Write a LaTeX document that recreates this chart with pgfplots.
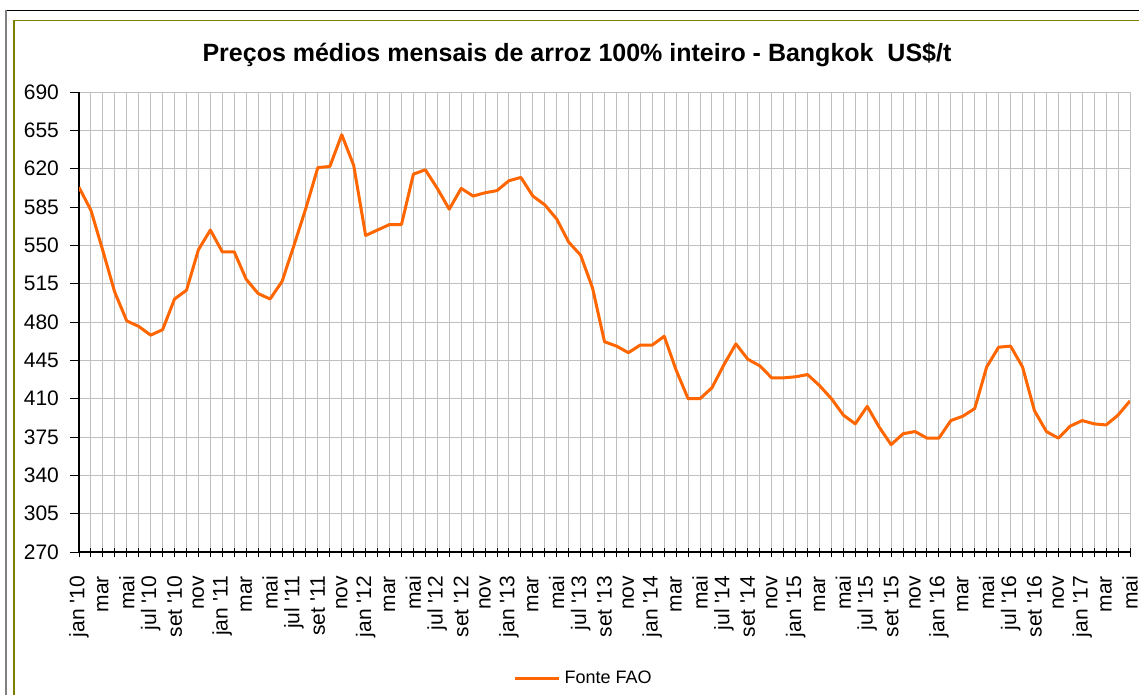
\documentclass[border=0pt]{standalone}
\usepackage{fontspec}
\setmainfont{Liberation Sans}
\newfontfamily\arial{Liberation Sans}
\usepackage{pgfplots}
\pgfplotsset{compat=1.18}
\definecolor{olivef}{RGB}{128,128,0}
\definecolor{fao}{RGB}{255,102,0}
\definecolor{gridc}{RGB}{192,192,192}
\begin{document}
\begin{tikzpicture}
\useasboundingbox (0,0) rectangle (569.5pt,-347.5pt);
\begin{scope}[x=0.5pt,y=-0.5pt]
\draw[black, line width=0.6pt] (6,10.5) -- (1160,10.5);
\draw[gray, line width=0.6pt] (6,10.5) -- (6,710);
\draw[olivef, line width=0.7pt] (14,20.5) -- (1160,20.5);
\draw[olivef, line width=0.7pt] (14,20.5) -- (14,710);
\node[font=\arial\bfseries\fontsize{12.5}{14}\selectfont] at (577,55) {Preços médios mensais de arroz 100\% inteiro - Bangkok\ \ US\$/t};
\end{scope}
\begin{axis}[
  at={(39.5pt,-276pt)}, anchor=south west,
  scale only axis, width=525.5pt, height=230pt,
  xmin=0, xmax=88, ymin=270, ymax=690,
  axis x line=bottom, axis y line=left, axis line style={-, black, line width=0.6pt},
  xtick={0,2,...,88}, minor xtick={1,3,...,87},
  xticklabels={jan '10,mar,mai,jul '10,set '10,nov,jan '11,mar,mai,jul '11,set '11,nov,jan '12,mar,mai,jul '12,set '12,nov,jan '13,mar,mai,jul '13,set '13,nov,jan '14,mar,mai,jul '14,set '14,nov,jan '15,mar,mai,jul '15,set '15,nov,jan '16,mar,mai,jul '16,set '16,nov,jan '17,mar,mai},
  ytick={270,305,...,690},
  grid=both,
  major grid style={gridc, line width=0.5pt},
  minor grid style={gridc, line width=0.5pt},
  tick align=outside,
  major tick length=4.5pt, minor tick length=4.5pt,
  tick style={black, line width=0.5pt},
  x tick style={yshift=2pt},
  /pgf/number format/assume math mode=true,
  tick label style={font=\arial\fontsize{10.5}{12}\selectfont},
  xticklabel style={yshift=-4pt, rotate=90, anchor=east},
  yticklabel style={xshift=-2pt},
  legend style={at={(0.481,-0.276)}, anchor=center, draw=none, fill=none,
    font=\arial\fontsize{9}{11}\selectfont},
  legend image code/.code={\draw[#1] (0pt,0pt) -- (22pt,0pt);},
]
\addplot[fao, line width=1.5pt, line join=round] coordinates {
(0,603) (1,582) (2,545) (3,507) (4,481) (5,476) (6,468) (7,473) (8,501) (9,509)
(10,546) (11,564) (12,544) (13,544) (14,519) (15,506) (16,501) (17,517) (18,550) (19,584)
(20,621) (21,622) (22,651) (23,623) (24,559) (25,564) (26,569) (27,569) (28,615) (29,619)
(30,602) (31,583) (32,602) (33,595) (34,598) (35,600) (36,609) (37,612) (38,595) (39,587)
(40,574) (41,553) (42,541) (43,511) (44,462) (45,458) (46,452) (47,459) (48,459) (49,467)
(50,436) (51,410) (52,410) (53,420) (54,441) (55,460) (56,446) (57,440) (58,429) (59,429)
(60,430) (61,432) (62,422) (63,410) (64,395) (65,387) (66,403) (67,384) (68,368) (69,378)
(70,380) (71,374) (72,374) (73,390) (74,394) (75,401) (76,439) (77,457) (78,458) (79,439)
(80,399) (81,380) (82,374) (83,385) (84,390) (85,387) (86,386) (87,395) (88,408)
};
\addlegendentry{Fonte FAO}
\end{axis}
\end{tikzpicture}
\end{document}
